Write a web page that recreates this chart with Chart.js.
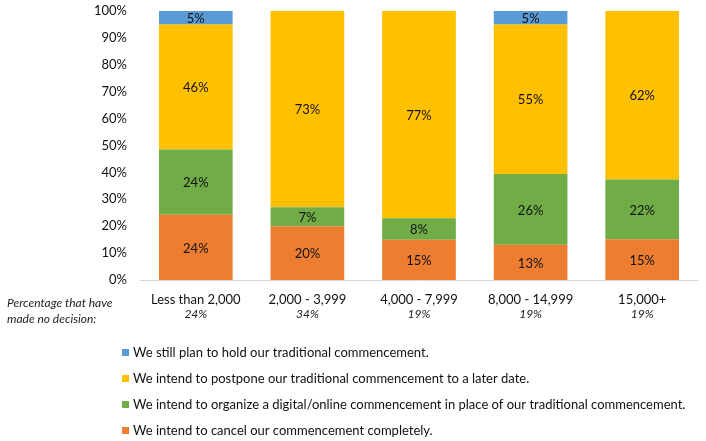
<!DOCTYPE html>
<html>
<head>
<meta charset="utf-8">
<script src="https://cdn.jsdelivr.net/npm/chart.js@4.4.1/dist/chart.umd.min.js"></script>
<style>
  html, body { margin: 0; padding: 0; background: #fff; }
  #wrap { width: 706px; height: 441px; position: relative; }
</style>
</head>
<body>
<div id="wrap"><canvas id="chart"></canvas></div>
<script>
// enrollment size groups
const categories = ['Less than 2,000', '2,000 - 3,999', '4,000 - 7,999', '8,000 - 14,999', '15,000+'];
const noDecision = ['24%', '34%', '19%', '19%', '19%'];

// percent of respondents per plan (as printed on the bars)
const cancelVals   = [24, 20, 15, 13, 15];
const digitalVals  = [24, 7, 8, 26, 22];
const postponeVals = [46, 73, 77, 55, 62];
const holdVals     = [5, 0, 0, 5, 0];

const yTicks = [0, 10, 20, 30, 40, 50, 60, 70, 80, 90, 100];

const labels = {
  hold: 'We still plan to hold our traditional commencement.',
  postpone: 'We intend to postpone our traditional commencement to a later date.',
  digital: 'We intend to organize a digital/online commencement in place of our traditional commencement.',
  cancel: 'We intend to cancel our commencement completely.',
};

const FONT = 'Lato, "Open Sans", sans-serif';

// 100% stacked: scale each column to its own total
const totals = categories.map((_, i) => cancelVals[i] + digitalVals[i] + postponeVals[i] + holdVals[i]);
const share = (arr) => arr.map((v, i) => (v / totals[i]) * 100);

const series = [
  { key: 'cancel', raw: cancelVals, color: '#ED7D31' },
  { key: 'digital', raw: digitalVals, color: '#70AD47' },
  { key: 'postpone', raw: postponeVals, color: '#FFC000' },
  { key: 'hold', raw: holdVals, color: '#5B9BD5' },
];

const segmentLabels = {
  id: 'segmentLabels',
  afterDatasetsDraw(chart) {
    const { ctx } = chart;
    ctx.save();
    ctx.font = '13px ' + FONT;
    ctx.fillStyle = '#111';
    ctx.textAlign = 'center';
    ctx.textBaseline = 'middle';
    chart.data.datasets.forEach((ds, di) => {
      const meta = chart.getDatasetMeta(di);
      meta.data.forEach((bar, i) => {
        const v = ds.raw[i];
        if (!v) return;
        ctx.fillText(v + '%', bar.x, (bar.y + bar.base) / 2 + 1);
      });
    });
    ctx.restore();
  },
};

const extras = {
  id: 'extras',
  afterDraw(chart) {
    const { ctx } = chart;
    const x = chart.scales.x;
    ctx.save();
    // sub labels under categories
    ctx.font = 'italic 12px ' + FONT;
    ctx.fillStyle = '#222';
    ctx.textAlign = 'center';
    ctx.textBaseline = 'middle';
    noDecision.forEach((t, i) => ctx.fillText(t, x.getPixelForValue(i), 314));

    ctx.textAlign = 'left';
    ctx.fillText('Percentage that have', 7, 303);
    ctx.fillText('made no decision:', 7, 319);

    // legend, top to bottom in reverse stack order
    ctx.font = '13px ' + FONT;
    const rows = [...series].reverse();
    rows.forEach((s, i) => {
      const y = 352 + i * 26;
      ctx.fillStyle = s.color;
      ctx.fillRect(122, y - 3, 7, 7);
      ctx.fillStyle = '#111';
      ctx.fillText(labels[s.key], 133, y + 1);
    });
    ctx.restore();
  },
};

new Chart(document.getElementById('chart'), {
  type: 'bar',
  data: {
    labels: categories,
    datasets: series.map((s) => ({
      label: labels[s.key],
      data: share(s.raw),
      raw: s.raw,
      backgroundColor: s.color,
      borderWidth: 0,
      barPercentage: 0.66,
      categoryPercentage: 1,
    })),
  },
  options: {
    responsive: true,
    maintainAspectRatio: false,
    animation: false,
    layout: { padding: { top: 11, right: 8, left: 0, bottom: 0 } },
    plugins: { legend: { display: false }, tooltip: { enabled: false } },
    scales: {
      x: {
        stacked: true,
        grid: { display: false, drawTicks: false },
        border: { display: true, color: '#d9d9d9', width: 1 },
        ticks: { color: '#111', padding: 12, font: { family: FONT, size: 13 } },
        afterFit: (s) => { s.height = 161; },
      },
      y: {
        stacked: true,
        min: 0,
        max: 100,
        afterBuildTicks: (s) => { s.ticks = yTicks.map((v) => ({ value: v })); },
        grid: { display: false, drawTicks: false },
        border: { display: false },
        ticks: { color: '#111', padding: 13, font: { family: FONT, size: 13 }, callback: (v) => v + '%' },
        afterFit: (s) => { s.width = 140; s.paddingTop = 0; s.paddingBottom = 0; },
      },
    },
  },
  plugins: [segmentLabels, extras],
});
</script>
</body>
</html>
